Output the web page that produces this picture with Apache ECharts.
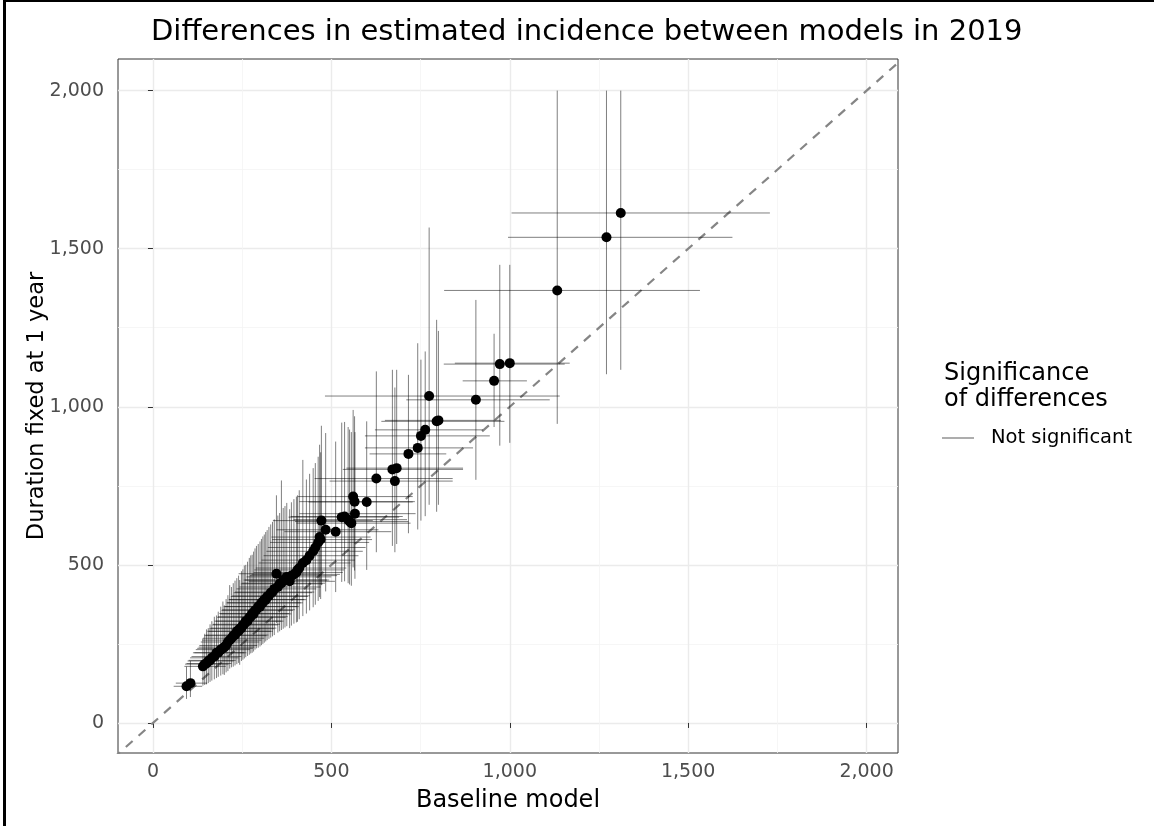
<!DOCTYPE html>
<html>
<head>
<meta charset="utf-8">
<script src="https://cdn.jsdelivr.net/npm/echarts@6/dist/echarts.min.js"></script>
<style>
  html, body { margin: 0; padding: 0; background: #fff; }
  #main { width: 1154px; height: 826px; }
</style>
</head>
<body>
<div id="main"></div>
<script>
// estimated incidence per area
const baseline = [94, 105, 140, 145, 150, 155, 160, 165, 172, 178, 183, 190, 196, 200, 205, 210, 215, 220, 225, 230, 235, 240, 243, 248, 252, 256, 260, 265, 270, 274, 278, 282, 286, 290, 295, 300, 304, 308, 312, 316, 320, 325, 330, 335, 340, 346, 350, 355, 360, 365, 370, 375, 383, 388, 395, 402, 405, 410, 420, 430, 439, 449, 455, 463, 467, 470, 472, 484, 512, 529, 537, 547, 551, 556, 561, 565, 566, 599, 626, 671, 678, 683, 716, 742, 751, 763, 774, 795, 800, 905, 956, 972, 1000, 1133, 1271, 1311];
const fixed1y = [116, 126, 179, 186, 188, 196, 198, 206, 210, 222, 222, 232, 236, 240, 245, 256, 262, 268, 276, 278, 290, 290, 298, 300, 310, 312, 322, 322, 334, 336, 346, 345, 356, 358, 368, 368, 380, 380, 390, 390, 400, 402, 412, 414, 424, 472, 430, 440, 442, 452, 452, 462, 448, 466, 470, 476, 484, 490, 506, 515, 529, 543, 555, 571, 588, 580, 640, 611, 605, 651, 653, 643, 637, 632, 716, 700, 662, 699, 773, 802, 765, 806, 851, 870, 908, 927, 1034, 954, 957, 1022, 1082, 1135, 1138, 1368, 1536, 1613];
// interval bounds
const baseLo = [58, 64, 88, 90, 94, 97, 100, 104, 108, 112, 116, 120, 124, 128, 130, 134, 138, 140, 144, 148, 152, 156, 158, 162, 166, 168, 172, 176, 180, 182, 186, 188, 192, 194, 198, 202, 206, 208, 212, 214, 218, 222, 226, 230, 234, 240, 242, 246, 250, 254, 258, 262, 268, 272, 276, 282, 284, 288, 296, 304, 310, 318, 322, 328, 332, 334, 336, 346, 368, 380, 386, 394, 398, 402, 406, 410, 410, 436, 453, 532, 495, 542, 607, 594, 594, 622, 482, 640, 650, 710, 868, 815, 846, 816, 995, 1005];
const baseHi = [138, 152, 204, 212, 220, 226, 232, 240, 248, 256, 262, 272, 280, 284, 292, 298, 304, 312, 318, 324, 330, 336, 340, 346, 350, 356, 360, 366, 372, 378, 382, 388, 392, 398, 404, 410, 414, 420, 424, 430, 434, 440, 446, 452, 458, 466, 470, 476, 482, 488, 494, 500, 510, 516, 524, 532, 536, 542, 554, 566, 576, 588, 596, 606, 610, 614, 616, 632, 668, 690, 700, 712, 716, 722, 728, 734, 736, 728, 840, 869, 840, 869, 822, 897, 944, 925, 1140, 985, 975, 1112, 1048, 1154, 1168, 1533, 1624, 1729];
const fixedLo = [76, 82, 118, 120, 122, 126, 130, 134, 138, 142, 146, 150, 154, 152, 160, 164, 172, 176, 178, 182, 186, 190, 184, 196, 200, 204, 208, 212, 216, 220, 222, 226, 232, 236, 238, 242, 246, 250, 254, 258, 262, 266, 270, 274, 278, 316, 286, 290, 294, 298, 302, 306, 300, 308, 314, 318, 320, 328, 338, 346, 356, 366, 374, 386, 398, 392, 436, 416, 414, 446, 448, 442, 438, 434, 492, 482, 456, 484, 540, 560, 540, 566, 600, 612, 640, 654, 690, 668, 690, 769, 936, 877, 886, 946, 1103, 1117];
const fixedHi = [178, 196, 268, 282, 296, 300, 312, 322, 336, 340, 352, 368, 384, 372, 392, 404, 436, 430, 442, 450, 458, 466, 452, 480, 486, 498, 500, 510, 522, 530, 532, 542, 552, 560, 566, 574, 582, 590, 596, 604, 610, 620, 628, 636, 644, 720, 656, 664, 767, 680, 686, 696, 676, 698, 708, 716, 720, 736, 832, 770, 788, 806, 822, 842, 880, 856, 940, 917, 890, 950, 952, 936, 928, 920, 990, 970, 920, 954, 1112, 1117, 1061, 1117, 1101, 1201, 1149, 1175, 1567, 1275, 1240, 1338, 1231, 1449, 1449, 2000, 2000, 2000];
const tickValues = [0, 500, 1000, 1500, 2000];

const xMin = -98, xMax = 2088;
const yMin = -95, yMax = 2100;

const font = "DejaVu Sans";
const rows = baseline.map((b, i) => [b, fixed1y[i], baseLo[i], baseHi[i], fixedLo[i], fixedHi[i]]);

// grid lines come from this axis
const gridAxis = {
  type: "value",
  minInterval: 500,
  maxInterval: 500,
  axisLine: { show: false },
  axisTick: { show: false },
  axisLabel: { show: false },
  splitLine: { show: true, showMinLine: false, showMaxLine: false, lineStyle: { color: "#ebebeb", width: 1.4 } },
  minorTick: { show: false, splitNumber: 2 },
  minorSplitLine: { show: true, lineStyle: { color: "#f4f4f4", width: 0.8 } },
  nameLocation: "middle",
  nameTextStyle: { color: "#000", fontFamily: font, fontSize: 24 },
};

// ticks and labels come from this one
const labelAxis = {
  type: "value",
  minInterval: 500,
  maxInterval: 500,
  axisLine: { show: false },
  axisTick: { show: true, length: 5, customValues: tickValues, lineStyle: { color: "#333", width: 1 } },
  axisLabel: {
    color: "#4d4d4d",
    fontFamily: font,
    fontSize: 19,
    customValues: tickValues,
    formatter: (v) => v.toLocaleString("en-US"),
  },
  splitLine: { show: false },
};

const option = {
  animation: false,
  backgroundColor: "#fff",
  title: [
    {
      text: "Differences in estimated incidence between models in 2019",
      left: 146,
      top: 13,
      textStyle: { fontFamily: font, fontSize: 29, fontWeight: "normal", color: "#000" },
    },
    {
      text: "Significance\nof differences",
      left: 939,
      top: 356,
      textStyle: { fontFamily: font, fontSize: 24, lineHeight: 26, fontWeight: "normal", color: "#000" },
    },
  ],
  legend: {
    left: 942,
    top: 428,
    padding: 0,
    data: [{ name: "Not significant", icon: "rect", itemStyle: { color: "#8a8a8a" } }],
    itemWidth: 32,
    itemHeight: 1.4,
    textStyle: { fontFamily: font, fontSize: 19.5, color: "#000", padding: [0, 0, 0, 12] },
  },
  grid: {
    left: 118,
    right: 256,
    top: 59,
    bottom: 73,
    show: true,
    borderColor: "#333",
    borderWidth: 1,
    backgroundColor: "transparent",
  },
  xAxis: [
    { ...gridAxis, min: xMin, max: xMax, position: "bottom", name: "Baseline model", nameGap: 36 },
    { ...labelAxis, min: xMin, max: xMax, position: "bottom", axisLabel: { ...labelAxis.axisLabel, margin: 10 } },
  ],
  yAxis: [
    {
      ...gridAxis,
      min: yMin,
      max: yMax,
      position: "left",
      name: "Duration fixed at 1 year",
      nameGap: 69,
      nameTextStyle: { ...gridAxis.nameTextStyle, fontSize: 22.5 },
    },
    { ...labelAxis, min: yMin, max: yMax, position: "left", axisLabel: { ...labelAxis.axisLabel, margin: 14 } },
  ],
  series: [
    {
      type: "line",
      data: [[-3000, -3000], [3000, 3000]],
      clip: true,
      symbol: "none",
      silent: true,
      lineStyle: { color: "#858585", width: 2.2, type: [9, 8] },
      z: 2,
    },
    {
      name: "Not significant",
      type: "custom",
      data: rows,
      clip: true,
      z: 3,
      itemStyle: { color: "#8a8a8a" },
      renderItem: (params, api) => {
        const lo = api.coord([api.value(2), api.value(1)]);
        const hi = api.coord([api.value(3), api.value(1)]);
        const bot = api.coord([api.value(0), api.value(4)]);
        const top = api.coord([api.value(0), api.value(5)]);
        const style = { stroke: "rgba(0,0,0,0.5)", lineWidth: 1 };
        return {
          type: "group",
          children: [
            { type: "line", shape: { x1: lo[0], y1: lo[1], x2: hi[0], y2: hi[1] }, style },
            { type: "line", shape: { x1: bot[0], y1: bot[1], x2: top[0], y2: top[1] }, style },
          ],
        };
      },
    },
    {
      type: "scatter",
      data: rows.map((r) => [r[0], r[1]]),
      symbolSize: 10,
      itemStyle: { color: "#000", opacity: 1 },
      z: 4,
    },
  ],
  graphic: [
    { type: "line", shape: { x1: 4.5, y1: 0, x2: 4.5, y2: 826 }, style: { stroke: "#000", lineWidth: 3 } },
    { type: "line", shape: { x1: 3, y1: 1, x2: 1154, y2: 1 }, style: { stroke: "#000", lineWidth: 2 } },
  ],
};

const myChart = echarts.init(document.getElementById("main"));
myChart.setOption(option);
</script>
</body>
</html>
